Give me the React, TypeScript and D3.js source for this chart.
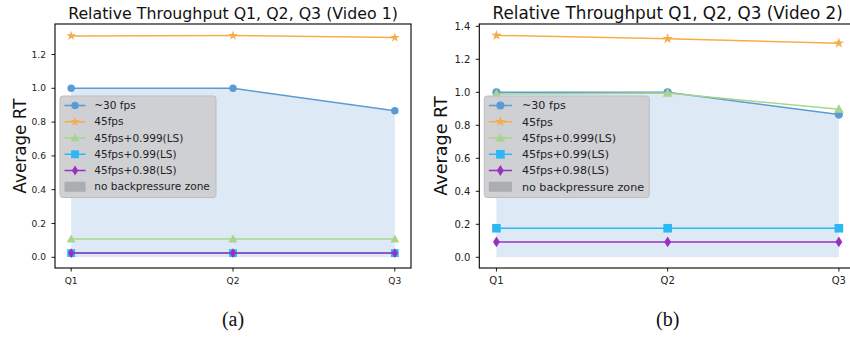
import React from "react";
import * as d3 from "d3";

const categories = ["Q1", "Q2", "Q3"];
const seriesNames = ["~30 fps", "45fps", "45fps+0.999(LS)", "45fps+0.99(LS)", "45fps+0.98(LS)"];
const zoneLabel = "no backpressure zone";

const v1_30 = [1.0, 1.0, 0.867];
const v1_45 = [1.31, 1.312, 1.3];
const v1_999 = [0.108, 0.108, 0.108];
const v1_99 = [0.025, 0.025, 0.025];
const v1_98 = [0.025, 0.025, 0.025];

const v2_30 = [1.0, 1.0, 0.865];
const v2_45 = [1.345, 1.325, 1.298];
const v2_999 = [0.99, 0.995, 0.898];
const v2_99 = [0.176, 0.176, 0.176];
const v2_98 = [0.093, 0.093, 0.093];

const yTicks1 = [0, 0.2, 0.4, 0.6, 0.8, 1.0, 1.2];
const yTicks2 = [0, 0.2, 0.4, 0.6, 0.8, 1.0, 1.2, 1.4];

const colors = ["#5b9bd5", "#f5ad4a", "#a8d58e", "#2bb8f5", "#9b2fc0"];
const markers = ["circle", "star", "triangle", "square", "diamond"];

const FONT = "'DejaVu Sans', sans-serif";

function Marker({ type, x, y, color, s }: { type: string; x: number; y: number; color: string; s: number }) {
  if (type === "circle") return <circle cx={x} cy={y} r={3.8 * s} fill={color} />;
  if (type === "square") return <rect x={x - 4 * s} y={y - 4 * s} width={8 * s} height={8 * s} fill={color} />;
  if (type === "triangle") {
    const r = 4.6 * s;
    return <path d={`M${x},${y - r}L${x + r},${y + r * 0.75}L${x - r},${y + r * 0.75}Z`} fill={color} />;
  }
  if (type === "diamond") {
    return <path d={`M${x},${y - 5 * s}L${x + 3.2 * s},${y}L${x},${y + 5 * s}L${x - 3.2 * s},${y}Z`} fill={color} />;
  }
  const star = d3.symbol(d3.symbolStar, 30 * s * s)();
  return <path d={star as string} transform={`translate(${x},${y})`} fill={color} />;
}

function T(props: any) {
  const { size, children, family, ...rest } = props;
  return (
    <text {...rest} style={{ fontFamily: family || FONT, fontSize: `${size}px` }}>
      {children}
    </text>
  );
}

function Panel({
  x0, x1, y0, y1, zeroY, perUnit, title, titleSize, fs, legFs, labFs, yTicks, data, yLabelX, caption, legendW,
}: any) {
  const s = fs / 9.3;
  const x = d3.scalePoint<string>().domain(categories).range([x0, x1]).padding(0.1);
  const y = d3.scaleLinear().domain([(zeroY - y1) / perUnit, (zeroY - y0) / perUnit]).range([y1, y0]);
  const line = d3.line<number>().x((_, i) => x(categories[i]) as number).y((d) => y(d));
  const area = d3.area<number>().x((_, i) => x(categories[i]) as number).y0(y(0)).y1((d) => y(d));
  const lx = x0 + 5;
  const ly = y0 + 72;
  const rowH = 16.25;
  return (
    <g>
      <defs>
        <clipPath id={`clip${caption}`}>
          <rect x={x0} y={y0} width={x1 - x0} height={y1 - y0} />
        </clipPath>
      </defs>
      <g clipPath={`url(#clip${caption})`}>
        <path d={area(data[0]) as string} fill="#dee9f6" />
        {data.map((vals: number[], k: number) => (
          <g key={k}>
            <path d={line(vals) as string} fill="none" stroke={colors[k]} strokeWidth={1.5} />
            {vals.map((v, i) => (
              <Marker key={i} type={markers[k]} x={x(categories[i]) as number} y={y(v)} color={colors[k]} s={s} />
            ))}
          </g>
        ))}
      </g>
      <rect x={x0} y={y0} width={x1 - x0} height={y1 - y0} fill="none" stroke="#000" strokeWidth={1.1} />
      {yTicks.map((t: number) => (
        <g key={t}>
          <line x1={x0 - 3.5} x2={x0} y1={y(t)} y2={y(t)} stroke="#000" strokeWidth={0.9} />
          <T x={x0 - 9} y={y(t)} dy="0.35em" textAnchor="end" size={fs} fill="#222">
            {t.toFixed(1)}
          </T>
        </g>
      ))}
      {categories.map((c) => (
        <g key={c}>
          <line x1={x(c)} x2={x(c)} y1={y1} y2={y1 + 3.5} stroke="#000" strokeWidth={0.9} />
          <T x={x(c)} y={y1 + 16} textAnchor="middle" size={fs} fill="#222">
            {c}
          </T>
        </g>
      ))}
      <T x={(x0 + x1) / 2} y={19} textAnchor="middle" size={titleSize} fill="#111">
        {title}
      </T>
      <T
        transform={`translate(${yLabelX},${(y0 + y1) / 2}) rotate(-90)`}
        textAnchor="middle"
        dy="0.35em"
        size={labFs}
        fill="#111"
      >
        Average RT
      </T>
      <rect x={lx} y={ly} width={legendW} height={101.5} rx={3} fill="#cdcdd0" fillOpacity={0.92} stroke="#bdbdbf" strokeWidth={1} />
      {seriesNames.map((n, k) => {
        const ry = ly + 9.5 + k * rowH;
        return (
          <g key={n}>
            <line x1={lx + 4.5} x2={lx + 4.5 + 22 * s * 0.98} y1={ry} y2={ry} stroke={colors[k]} strokeWidth={1.5} />
            <Marker type={markers[k]} x={lx + 4.5 + 11 * s * 0.98} y={ry} color={colors[k]} s={s} />
            <T x={lx + 35 * s} y={ry} dy="0.35em" size={legFs} fill="#222">
              {n}
            </T>
          </g>
        );
      })}
      <rect x={lx + 4.5} y={ly + 9.5 + 5 * rowH - 5} width={22 * s * 0.98} height={10} fill="#abadb1" />
      <T x={lx + 35 * s} y={ly + 9.5 + 5 * rowH} dy="0.35em" size={legFs} fill="#222">
        {zoneLabel}
      </T>
      <T x={(x0 + Math.min(x1, x0 + (x1 - x0))) / 2 - (caption === "b" ? 0 : 0)} y={326} textAnchor="middle" size={20} family="'Liberation Serif', serif" fill="#111">
        {`(${caption})`}
      </T>
    </g>
  );
}

export default function App() {
  return (
    <svg width={850} height={339} style={{ position: "absolute", left: 0, top: 0, background: "#fff" }}>
      <rect width={850} height={339} fill="#fff" />
      <Panel
        x0={55}
        x1={411}
        y0={24}
        y1={268}
        zeroY={257.3}
        perUnit={169}
        title="Relative Throughput Q1, Q2, Q3 (Video 1)"
        titleSize={15.8}
        fs={9.1}
        legFs={10.55}
        labFs={16.8}
        yTicks={yTicks1}
        data={[v1_30, v1_45, v1_999, v1_99, v1_98]}
        yLabelX={20}
        caption="a"
        legendW={156}
      />
      <Panel
        x0={479.3}
        x1={856}
        y0={24}
        y1={268}
        zeroY={257.3}
        perUnit={165}
        title="Relative Throughput Q1, Q2, Q3 (Video 2)"
        titleSize={16.8}
        fs={10.0}
        legFs={11.15}
        labFs={17.6}
        yTicks={yTicks2}
        data={[v2_30, v2_45, v2_999, v2_99, v2_98]}
        yLabelX={441}
        caption="b"
        legendW={165}
      />
    </svg>
  );
}
